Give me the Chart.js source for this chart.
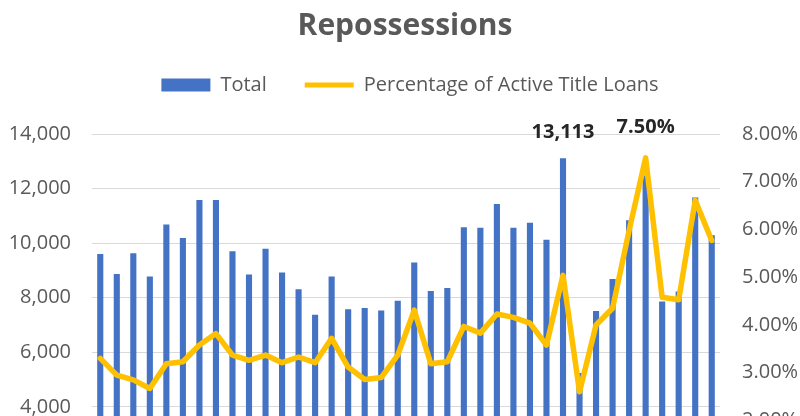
<!DOCTYPE html>
<html>
<head>
<meta charset="utf-8">
<script src="https://cdn.jsdelivr.net/npm/chart.js@4/dist/chart.umd.min.js"></script>
<style>
  html, body { margin: 0; padding: 0; background: #fff; overflow: hidden; }
  #wrap { width: 800px; height: 560px; position: relative; }
</style>
</head>
<body>
<div id="wrap"><canvas id="c" width="800" height="560"></canvas></div>
<script>
// Period index (x-axis labels fall below the visible crop)
const categories = ["1","2","3","4","5","6","7","8","9","10","11","12","13","14","15","16","17","18","19",
  "20","21","22","23","24","25","26","27","28","29","30","31","32","33","34","35","36","37","38"];
// Total repossessions
const totals = [9600, 8870, 9630, 8780, 10680, 10190, 11580, 11580, 9700, 8850, 9790, 8920, 8310, 7380, 8780,
  7580, 7620, 7530, 7890, 9290, 8250, 8360, 10580, 10560, 11430, 10560, 10750, 10120, 13113, 5240,
  7510, 8690, 10840, 12480, 7860, 8230, 11670, 10290];
// Percentage of active title loans
const pct = [3.30, 2.95, 2.85, 2.67, 3.19, 3.23, 3.58, 3.82, 3.37, 3.26, 3.37, 3.21, 3.33, 3.21, 3.72,
  3.12, 2.86, 2.90, 3.37, 4.31, 3.19, 3.23, 3.97, 3.83, 4.23, 4.16, 4.04, 3.58, 5.04, 2.60,
  4.00, 4.35, 5.98, 7.50, 4.58, 4.53, 6.61, 5.77];
const leftTicks = [0, 2000, 4000, 6000, 8000, 10000, 12000, 14000];
const rightTicks = [0, 1, 2, 3, 4, 5, 6, 7, 8];

const FONT = "'Open Sans', sans-serif";
const GREY = '#595959';

const legendSpace = {
  id: 'legendSpace',
  beforeInit(chart) {
    const lg = chart.legend;
    if (!lg) return;
    const orig = lg.fit;
    lg.fit = function () { orig.call(this); this.height = 97; };
  },
  afterLayout(chart) {
    if (chart.legend) { chart.legend.left += 10; chart.legend.right += 10; }
    if (chart.titleBlock) { chart.titleBlock.left += 5; chart.titleBlock.right += 5; }
  }
};

const annot = {
  id: 'annot',
  afterDatasetsDraw(chart) {
    const ctx = chart.ctx;
    const x = chart.scales.x, yl = chart.scales.y, yr = chart.scales.y1;
    const iMaxT = totals.indexOf(Math.max(...totals));
    const iMaxP = pct.indexOf(Math.max(...pct));
    ctx.save();
    ctx.fillStyle = '#262626';
    ctx.font = "bold 20px " + FONT;
    ctx.textAlign = 'center';
    ctx.textBaseline = 'middle';
    ctx.fillText(totals[iMaxT].toLocaleString('en-US'), x.getPixelForValue(iMaxT), yl.getPixelForValue(totals[iMaxT]) - 26);
    ctx.fillText(pct[iMaxP].toFixed(2) + '%', x.getPixelForValue(iMaxP), yr.getPixelForValue(pct[iMaxP]) - 31);
    ctx.restore();
  }
};

new Chart(document.getElementById('c'), {
  data: {
    labels: categories,
    datasets: [
      {
        type: 'line', label: 'Percentage of Active Title Loans', data: pct, yAxisID: 'y1',
        borderColor: '#FFC000', backgroundColor: '#FFC000', borderWidth: 5.5,
        pointRadius: 0, tension: 0, borderJoinStyle: 'round', borderCapStyle: 'round', order: 0
      },
      {
        type: 'bar', label: 'Total', data: totals, yAxisID: 'y',
        backgroundColor: '#4472C4', borderWidth: 0,
        categoryPercentage: 1, barPercentage: 0.37, order: 1
      }
    ]
  },
  options: {
    responsive: false,
    animation: false,
    layout: { padding: { left: 0, right: 0, top: 0, bottom: 36 } },
    plugins: {
      title: {
        display: true, text: 'Repossessions', color: GREY,
        font: { family: FONT, size: 30, weight: 'bold', lineHeight: 1 },
        padding: { top: 11, bottom: -4 }
      },
      legend: {
        display: true, position: 'top',
        labels: {
          color: GREY, font: { family: FONT, size: 20 },
          usePointStyle: true, pointStyleWidth: 49, boxHeight: 13, padding: 38,
          generateLabels(chart) {
            const items = Chart.defaults.plugins.legend.labels.generateLabels(chart);
            items.sort((a, b) => (a.text === 'Total' ? -1 : 1));
            items.forEach(it => {
              if (it.text === 'Total') { it.pointStyle = 'rect'; it.fillStyle = '#4472C4'; it.strokeStyle = '#4472C4'; it.lineWidth = 0; }
              else { it.pointStyle = 'line'; it.strokeStyle = '#FFC000'; it.lineWidth = 5; }
            });
            return items;
          }
        }
      },
      tooltip: { enabled: false }
    },
    scales: {
      x: {
        grid: { display: false }, border: { display: false },
        ticks: { display: false }
      },
      y: {
        position: 'left', min: 0, max: 14000,
        afterBuildTicks(s) { s.ticks = leftTicks.map(v => ({ value: v })); },
        afterFit(s) { s.width = 92; },
        grid: { color: '#D9D9D9', lineWidth: 1, drawTicks: false },
        border: { display: false },
        ticks: { color: GREY, font: { family: FONT, size: 20 }, padding: 21,
          callback: v => Number(v).toLocaleString('en-US') }
      },
      y1: {
        position: 'right', min: 0, max: 8,
        afterBuildTicks(s) { s.ticks = rightTicks.map(v => ({ value: v })); },
        afterFit(s) { s.width = 80; },
        grid: { display: false, drawTicks: false },
        border: { display: false },
        ticks: { color: GREY, font: { family: FONT, size: 20 }, padding: 22,
          callback: v => Number(v).toFixed(2) + '%' }
      }
    }
  },
  plugins: [legendSpace, annot]
});
</script>
</body>
</html>
